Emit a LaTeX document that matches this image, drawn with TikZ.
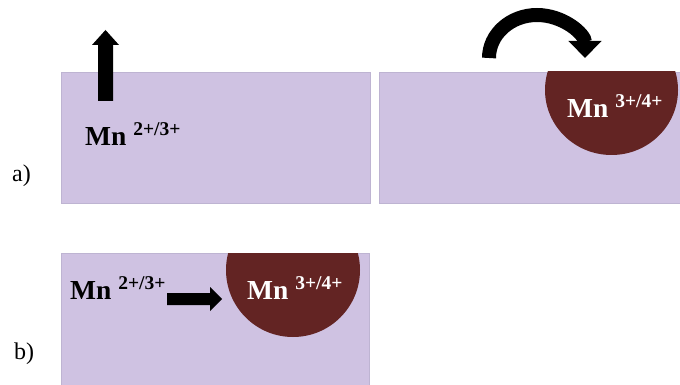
\documentclass[tikz,border=0pt]{standalone}
\usepackage{fontspec}
\setmainfont{Liberation Serif}
\usetikzlibrary{arrows.meta}
\definecolor{lav}{RGB}{207,194,226}
\definecolor{lavedge}{RGB}{190,180,210}
\definecolor{mnred}{RGB}{99,36,35}
\newcommand{\mnlabel}[1]{{\fontsize{27.5}{27.5}\selectfont\bfseries Mn \raisebox{10pt}{\fontsize{19.5}{19.5}\selectfont #1}}}
\begin{document}
\begin{tikzpicture}[x=1pt,y=-1pt,
  panel/.style={fill=lav,draw=lavedge,line width=0.8pt},
  blob/.style={fill=mnred},
  mntext/.style={anchor=base west,inner sep=0pt,font=\bfseries},
  lbl/.style={anchor=base west,inner sep=0pt,font=\fontsize{24}{24}\selectfont},
  blockarrow/.style={fill=black}]
\useasboundingbox (0,0) rectangle (680,385);
% panel a left
\path[panel] (61,72) rectangle (370,203);
\fill[blockarrow] (98,101) -- (98,45) -- (92,45) -- (105.5,30) -- (119,45) -- (113,45) -- (113,101) -- cycle;
\node[mntext] (mnA) at (85,146) {\mnlabel{2+/3+}};
% panel a right
\path[panel] (379,72) rectangle (682,203);
\begin{scope}
\clip (379,72) rectangle (682,203);
\fill[blob] (611.5,90) ellipse[x radius=66.5,y radius=65];
\end{scope}
\node[mntext,text=white] (mnB) at (567,118) {\mnlabel{3+/4+}};
\draw[line width=14pt,-{Triangle[width=32pt,length=17pt]}] (489,58) arc[start angle=180,end angle=360,x radius=48,y radius=43];
\node[lbl] (la) at (12,182) {a)};
% panel b
\path[panel] (61,253) rectangle (369,388);
\begin{scope}
\clip (61,253) rectangle (369,388);
\fill[blob] (293,270) ellipse[x radius=67,y radius=67];
\end{scope}
\node[mntext] (mnC) at (70,299) {\mnlabel{2+/3+}};
\node[mntext,text=white] (mnD) at (247,299) {\mnlabel{3+/4+}};
\fill[blockarrow] (167,293) -- (210,293) -- (210,287) -- (222,299) -- (210,311) -- (210,305) -- (167,305) -- cycle;
\node[lbl] (lb) at (14,359) {b)};
\end{tikzpicture}
\end{document}
